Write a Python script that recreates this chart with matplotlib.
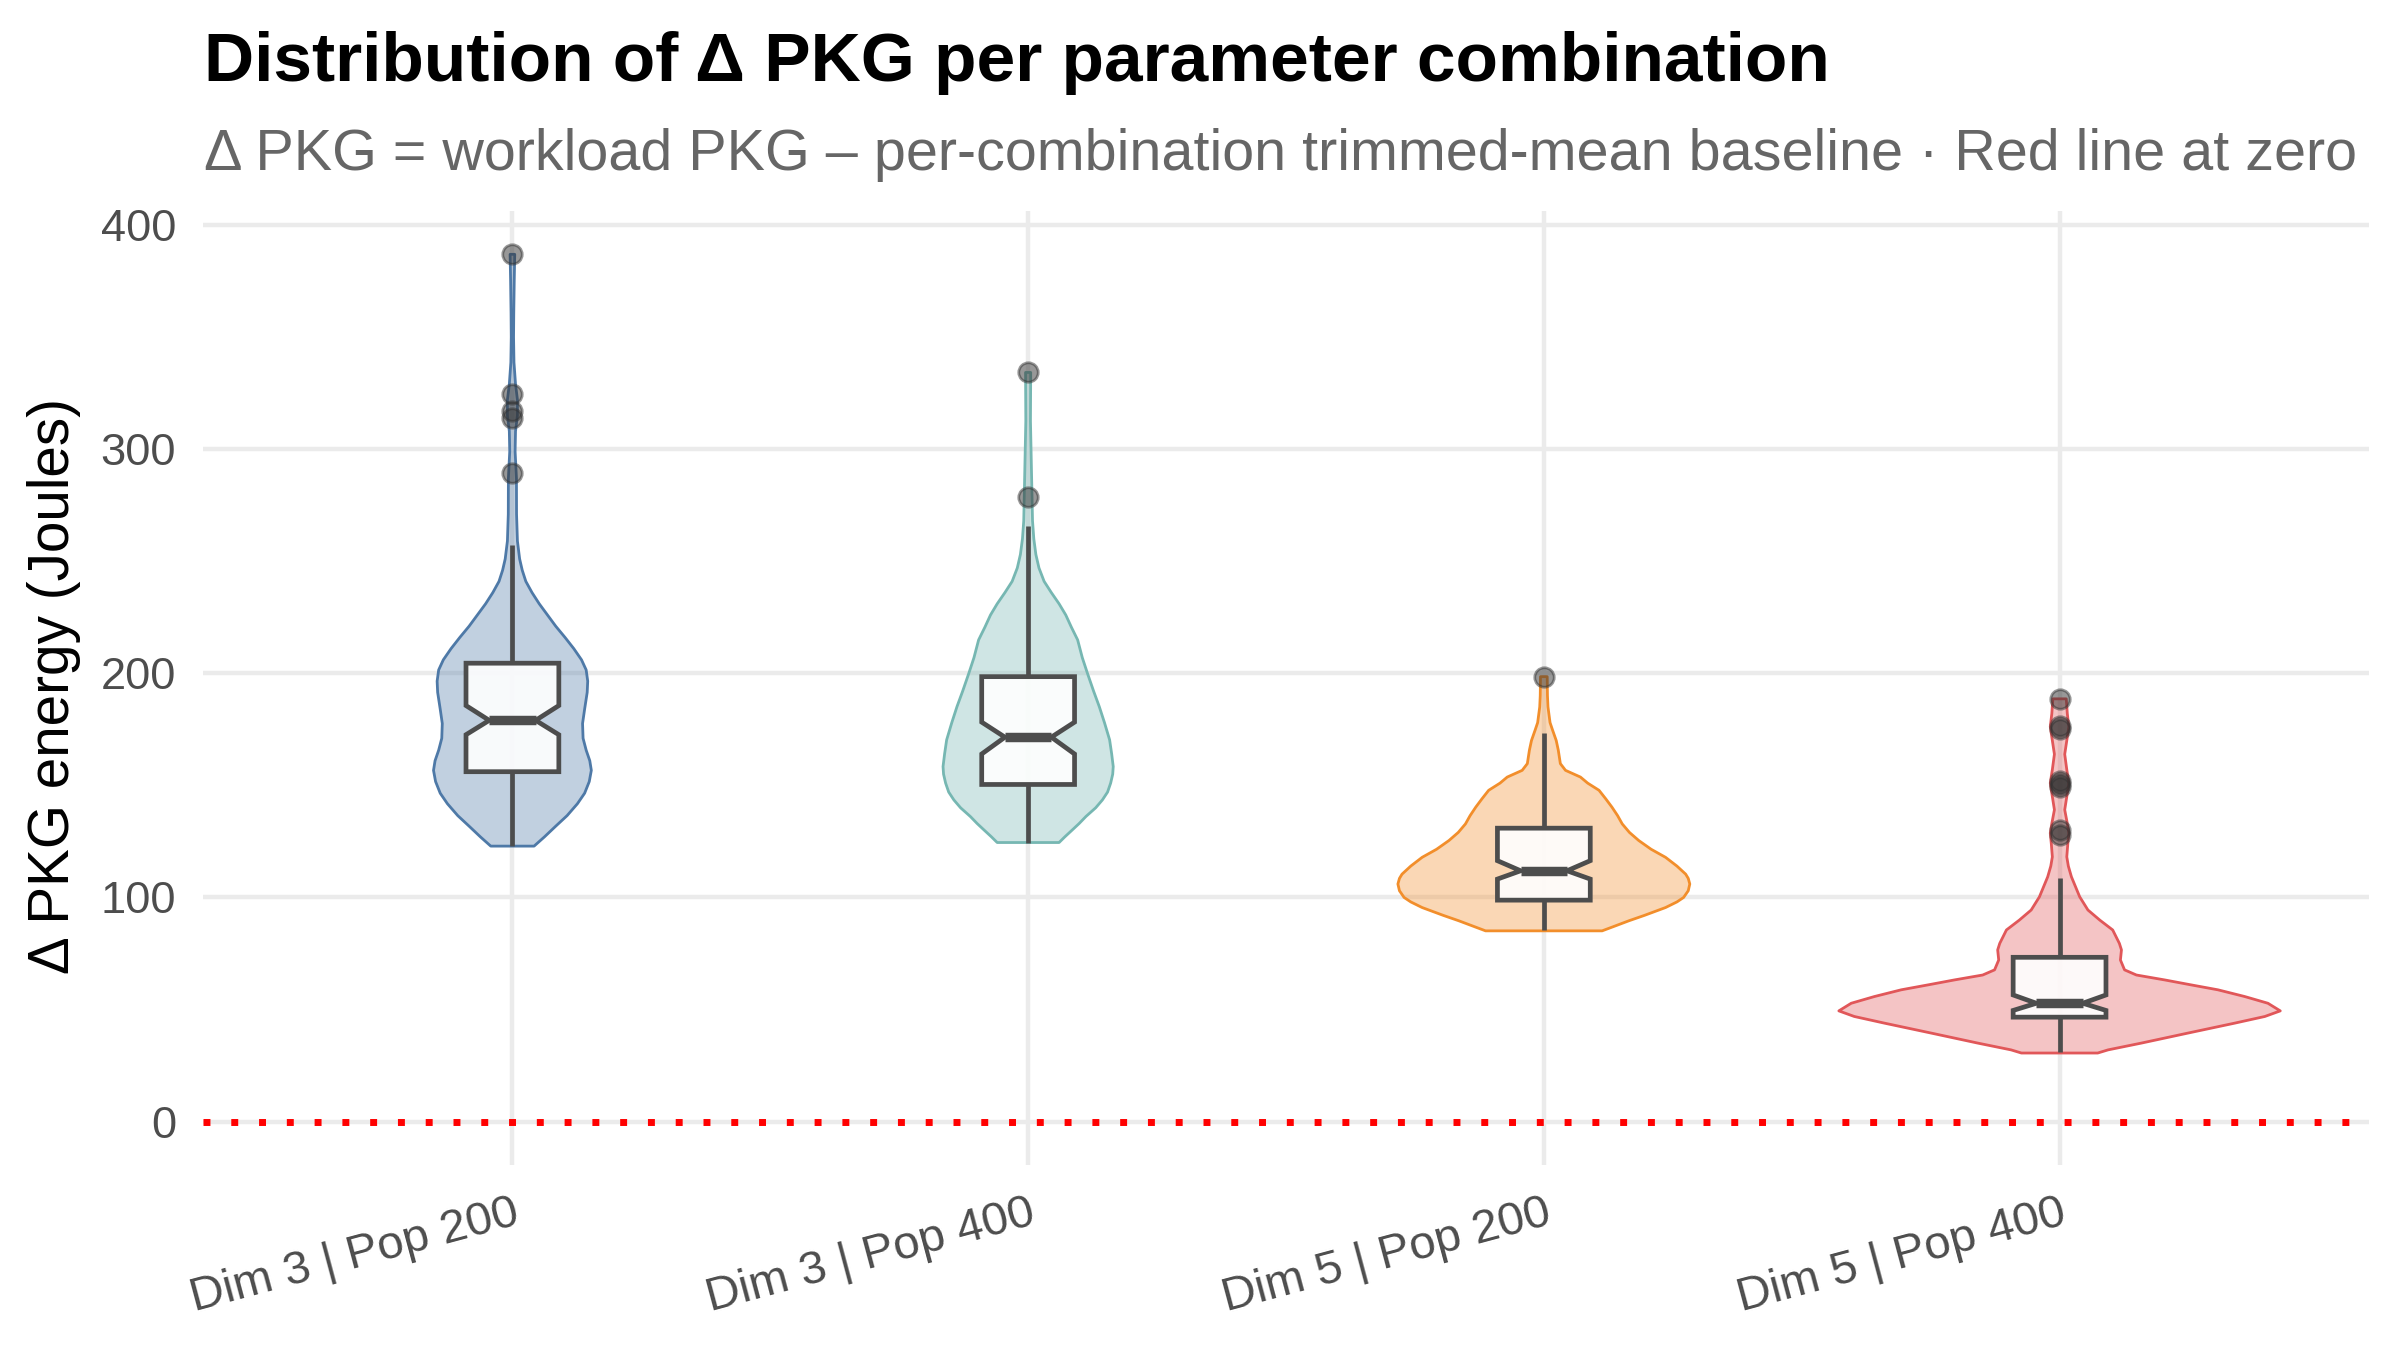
import matplotlib.pyplot as plt
import numpy as np

plt.rcParams['font.family'] = ['Liberation Sans', 'DejaVu Sans']

# groups and colours
groups = ['Dim 3 | Pop 200', 'Dim 3 | Pop 400', 'Dim 5 | Pop 200', 'Dim 5 | Pop 400']
edge_colors = ['#4E79A7', '#76B7B2', '#F28E2B', '#E15759']

# box statistics (Joules)
q1 = [156.1, 150.4, 98.8, 46.6]
med = [179.0, 171.5, 111.9, 52.8]
q3 = [204.5, 198.5, 130.9, 73.3]
notch_lo = [172.6, 164.0, 108.2, 49.6]
notch_hi = [185.6, 178.2, 116.4, 56.5]
whisk_lo = [122.9, 124.5, 85.4, 30.9]
whisk_hi = [257.2, 265.8, 173.4, 108.8]
outliers = [
    [386.9, 324.4, 316.8, 313.9, 289.4],
    [334.2, 278.8],
    [198.5],
    [188.6, 176.7, 175.2, 151.9, 150.5, 149.3, 130.0, 127.7],
]

# violin outlines: energy value and half width (in category units)
viol1_y = [122.9, 127, 131.8, 136.5, 141.8, 146.5, 151.7, 156.7, 161, 165.7, 171, 177.6,
           184, 191.5, 196.5, 201.5, 206, 211, 216, 221, 226, 231, 236, 241, 246, 251,
           259, 271, 287, 299, 308, 315, 322, 329, 338.7, 350, 360.6, 375, 386.9]
viol1_w = [0.042, 0.062, 0.084, 0.106, 0.126, 0.140, 0.149, 0.153, 0.150, 0.143, 0.137, 0.136,
           0.140, 0.145, 0.146, 0.143, 0.134, 0.119, 0.102, 0.084, 0.068, 0.052, 0.038, 0.026,
           0.019, 0.014, 0.0097, 0.008, 0.0078, 0.0052, 0.006, 0.0097, 0.0097, 0.006, 0.003,
           0.0022, 0.0026, 0.0035, 0.0045]

viol2_y = [124.5, 127, 130.2, 133, 136.1, 140, 143.5, 147, 151, 155, 158.4, 164, 170.3,
           178, 185.1, 192, 200, 207, 214.9, 220.5, 226, 231, 236, 241, 247, 253, 260,
           268, 279, 290, 312.6, 334.2]
viol2_w = [0.060, 0.071, 0.086, 0.099, 0.112, 0.131, 0.144, 0.154, 0.160, 0.164, 0.165,
           0.162, 0.158, 0.148, 0.138, 0.127, 0.115, 0.105, 0.096, 0.084, 0.073, 0.060,
           0.045, 0.031, 0.021, 0.015, 0.011, 0.0085, 0.0075, 0.0065, 0.0045, 0.005]

viol3_y = [85.1, 87, 89.6, 92, 95.5, 98, 100, 103, 106, 108.5, 110.4, 114, 117.9, 121.5,
           125.4, 129, 132.8, 136.5, 140.3, 144, 147.8, 151, 153.7, 156.7, 159.7, 165.7,
           170, 174.6, 178, 185, 190, 198.5]
viol3_w = [0.113, 0.135, 0.165, 0.195, 0.236, 0.258, 0.271, 0.280, 0.283, 0.280, 0.275,
           0.258, 0.236, 0.208, 0.184, 0.166, 0.152, 0.143, 0.132, 0.120, 0.107, 0.085,
           0.071, 0.042, 0.032, 0.028, 0.024, 0.017, 0.012, 0.008, 0.007, 0.0065]

viol4_y = [30.6, 32.0, 35.0, 39.5, 43.9, 46.9, 49.4, 52.8, 55.8, 58.8, 61.0, 63.2, 65.4,
           67.7, 72.1, 76.6, 79.5, 85.5, 89.9, 94.4, 100.3, 109.2, 114, 118.1, 124, 128.7,
           133, 139.1, 145, 151, 157, 163.9, 170, 176.2, 182, 188.6]
viol4_w = [0.074, 0.094, 0.158, 0.249, 0.339, 0.398, 0.428, 0.404, 0.359, 0.307, 0.255,
           0.204, 0.149, 0.126, 0.118, 0.120, 0.116, 0.103, 0.078, 0.055, 0.039, 0.023,
           0.017, 0.014, 0.016, 0.018, 0.015, 0.010, 0.014, 0.018, 0.014, 0.010, 0.014,
           0.018, 0.015, 0.013]

viol_y = [viol1_y, viol2_y, viol3_y, viol4_y]
viol_w = [viol1_w, viol2_w, viol3_w, viol4_w]

fig = plt.figure(figsize=(12, 6.75), dpi=200)
ax = fig.add_axes([0.08458, 0.13704, 0.9025, 0.70696])

pos = np.arange(1, len(groups) + 1)

# violins
for i in range(len(groups)):
    y = np.array(viol_y[i])
    w = np.array(viol_w[i])
    ax.fill_betweenx(y, pos[i] - w, pos[i] + w, facecolor=edge_colors[i], alpha=0.35,
                     edgecolor='none', zorder=2)
    ax.fill_betweenx(y, pos[i] - w, pos[i] + w, facecolor='none',
                     edgecolor=edge_colors[i], linewidth=1.0, zorder=2)

# notched boxplots
stats = []
for i in range(len(groups)):
    stats.append(dict(med=med[i], q1=q1[i], q3=q3[i], cilo=notch_lo[i], cihi=notch_hi[i],
                      whislo=whisk_lo[i], whishi=whisk_hi[i], fliers=outliers[i]))

ax.bxp(stats, positions=pos, widths=0.18, shownotches=True, showcaps=False,
       patch_artist=True, manage_ticks=False,
       boxprops=dict(facecolor=(1, 1, 1, 0.9), edgecolor='#4D4D4D', linewidth=1.7),
       whiskerprops=dict(color='#4D4D4D', linewidth=1.7, solid_capstyle='butt'),
       medianprops=dict(color='#4D4D4D', linewidth=3.4, solid_capstyle='butt'),
       flierprops=dict(marker='o', markersize=7, markerfacecolor='#333333',
                       markeredgecolor='#333333', alpha=0.5, linestyle='none'),
       zorder=3)

ax.axhline(0, color='red', linewidth=2.5, linestyle=(0, (1, 3)),
           dash_capstyle='butt', zorder=1.5)

ax.set_xlim(0.4, 4.6)
ax.set_ylim(-19.35, 406.4)
ax.set_xticks(pos)
ax.set_xticklabels(groups)
ax.set_yticks([0, 100, 200, 300, 400])
ax.grid(True, color='#EBEBEB', linewidth=1.6)
ax.set_axisbelow(True)
for s in ax.spines.values():
    s.set_visible(False)
ax.tick_params(axis='both', length=0, labelcolor='#4D4D4D')
ax.tick_params(axis='y', pad=9.7, labelsize=16.3)
ax.tick_params(axis='x', pad=9.4, labelsize=17)
plt.setp(ax.get_xticklabels(), rotation=15, ha='right', rotation_mode='anchor')

fig.text(0.0225, 0.492, 'Δ PKG energy (Joules)', rotation=90, ha='center', va='center',
         fontsize=20.4, color='black')
fig.text(0.085, 0.94, 'Distribution of Δ PKG per parameter combination',
         fontsize=25, fontweight='bold', color='black', va='baseline')
fig.text(0.085, 0.874,
         'Δ PKG = workload PKG – per-combination trimmed-mean baseline · Red line at zero',
         fontsize=20.7, color='#666666', va='baseline')

fig.savefig('out.png', dpi=200)
